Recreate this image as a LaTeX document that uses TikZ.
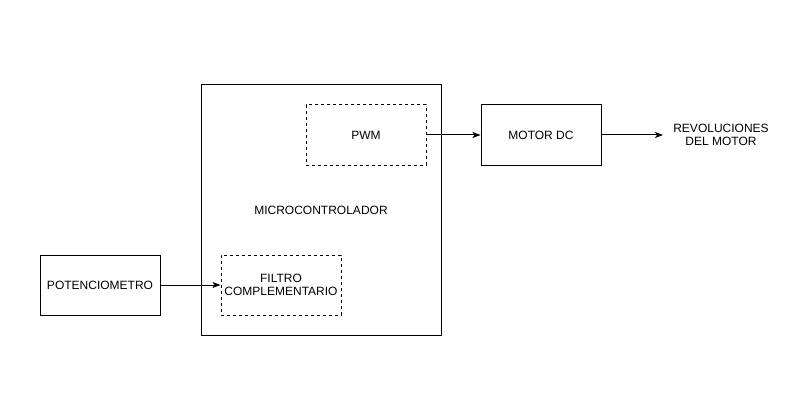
\documentclass[tikz,border=0pt]{standalone}
\usepackage{fontspec}
\setmainfont{Liberation Sans}
\usetikzlibrary{arrows.meta}
\begin{document}
\begin{tikzpicture}[x=1pt,y=-1pt,
  every node/.style={font=\fontsize{12}{13.5}\selectfont, align=center, inner sep=0pt},
  solidbox/.style={draw=black, line width=1pt, minimum width=120pt, minimum height=60pt},
  dashbox/.style={draw=black, line width=1pt, dash pattern=on 3pt off 3pt, minimum width=120pt, minimum height=60pt},
  conn/.style={draw=black, line width=1pt, -{Stealth[length=8pt,width=6pt,inset=2pt]}}]
\useasboundingbox[fill=white] (0,0) rectangle (792,401);
\node[draw=black, line width=1pt, minimum width=240pt, minimum height=250pt] (mcu) at (321,210) {};
\node (mcutext) at (321,210) {MICROCONTROLADOR};
\node[dashbox] (pwm) at (366,135) {PWM};
\node[dashbox] (filtro) at (281,285) {FILTRO\\COMPLEMENTARIO};
\node[solidbox] (pot) at (100,285) {POTENCIOMETRO};
\node[solidbox] (motor) at (541,135) {MOTOR DC};
\node (rev) at (721,135) {REVOLUCIONES\\DEL MOTOR};
\coordinate (revin) at (663,135);
\draw[conn] (pot.east) -- (filtro.west);
\draw[conn] (pwm.east) -- (motor.west);
\draw[conn] (motor.east) -- (revin);
\end{tikzpicture}
\end{document}
